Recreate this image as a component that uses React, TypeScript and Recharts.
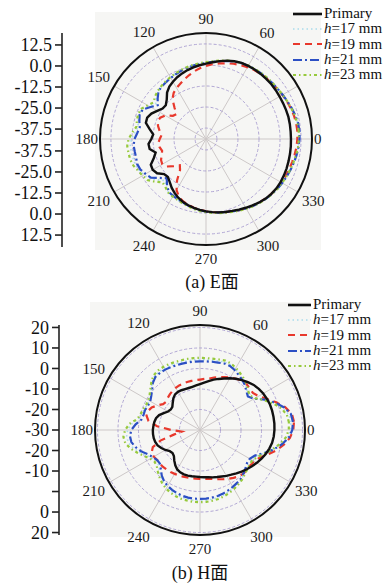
import {
  Legend,
  LineChart,
  PolarAngleAxis,
  PolarGrid,
  PolarRadiusAxis,
  Radar,
  RadarChart,
  XAxis,
  YAxis,
} from "recharts";

// angle categories, 5 degree steps
const angles = Array.from({ length: 72 }, (_, i) => i * 5);
const spokeAngles = [0, 30, 60, 90, 120, 150, 180, 210, 240, 270, 300, 330];
// 30 sits under the legend in the original, so it is not printed
const angleLabels = [0, 60, 90, 120, 150, 180, 210, 240, 270, 300, 330];

// E plane (dB)
const ePrimary = [
  6.5, 6.6, 6.7, 6.6, 6.5, 6.5, 6.6, 6.7, 6.6, 6.5,
  6.4, 6.2, 5.9, 5.2, 4.2, 3.0, 1.8, 0.8, 0.0, -0.8,
  -1.6, -2.5, -3.5, -4.7, -6.0, -8.0, -11.0, -12.8, -12.5, -10.5,
  -8.2, -6.8, -7.0, -10.0, -12.5, -11.5, -9.7, -10.0, -13.0, -11.0,
  -7.8, -7.4, -8.5, -11.5, -12.0, -10.5, -8.5, -6.8, -5.3, -4.2,
  -3.2, -2.4, -1.7, -1.0, -0.4, 0.3, 0.9, 1.5, 2.3, 3.2,
  4.2, 5.2, 6.1, 6.7, 7.1, 7.2, 7.1, 7.0, 6.8, 6.7,
  6.6, 6.5,
];
const eH17 = [
  11.5, 11.3, 10.7, 10.0, 9.2, 8.6, 8.0, 7.6, 7.3, 7.0,
  6.7, 6.3, 5.8, 5.1, 4.1, 3.1, 2.2, 1.5, 1.0, 0.5,
  0.0, -0.6, -1.2, -1.8, -2.4, -3.0, -3.8, -5.5, -7.5, -5.0,
  -2.0, -1.5, -2.3, -3.0, -1.5, 0.3, 1.2, 1.0, 0.8, 0.8,
  -0.2, -1.5, -2.8, -6.2, -9.2, -7.2, -5.2, -4.7, -4.2, -3.5,
  -2.8, -2.0, -1.3, -0.6, 0.0, 0.6, 1.2, 2.0, 2.8, 3.7,
  4.7, 5.5, 6.3, 7.0, 7.7, 8.2, 8.8, 9.4, 10.0, 10.5,
  11.0, 11.3,
];
const eH19 = [
  10.5, 10.4, 10.1, 9.6, 9.0, 8.4, 7.8, 7.3, 6.9, 6.5,
  6.0, 5.3, 4.5, 3.6, 2.6, 1.6, 0.6, -0.5, -1.8, -3.2,
  -4.8, -6.3, -7.8, -9.0, -10.5, -13.0, -17.5, -21.0, -20.0, -16.0,
  -14.0, -13.5, -14.5, -16.0, -17.5, -16.5, -15.5, -16.0, -17.0, -16.0,
  -14.5, -14.0, -15.5, -19.0, -22.0, -20.0, -14.0, -9.0, -6.0, -4.5,
  -3.5, -2.5, -1.8, -1.0, -0.3, 0.3, 1.0, 1.8, 2.7, 3.6,
  4.5, 5.3, 6.0, 6.7, 7.3, 7.8, 8.2, 8.6, 9.0, 9.5,
  10.0, 10.3,
];
const eH21 = [
  11.8, 11.5, 10.9, 10.1, 9.3, 8.6, 8.0, 7.6, 7.3, 7.0,
  6.7, 6.3, 5.8, 5.0, 4.0, 3.0, 2.0, 1.3, 0.8, 0.3,
  -0.3, -0.9, -1.5, -2.1, -2.7, -3.2, -4.0, -6.5, -9.0, -6.0,
  -2.5, -2.0, -3.0, -4.0, -3.0, -1.5, -0.8, -1.0, -1.0, -0.5,
  -1.0, -2.5, -4.0, -8.0, -11.0, -8.0, -5.5, -5.0, -4.5, -3.8,
  -3.0, -2.2, -1.5, -0.8, -0.2, 0.4, 1.0, 1.8, 2.7, 3.6,
  4.6, 5.5, 6.3, 7.0, 7.7, 8.3, 8.9, 9.5, 10.1, 10.7,
  11.2, 11.6,
];
const eH23 = [
  11.3, 11.1, 10.6, 9.9, 9.2, 8.6, 8.1, 7.7, 7.4, 7.1,
  6.8, 6.4, 5.9, 5.2, 4.3, 3.3, 2.4, 1.7, 1.2, 0.7,
  0.2, -0.4, -1.0, -1.6, -2.2, -2.8, -3.5, -4.5, -6.0, -4.0,
  -1.5, -1.0, -1.5, -2.0, 0.0, 2.0, 3.0, 2.8, 2.7, 2.0,
  0.5, -0.5, -1.5, -4.5, -7.5, -6.5, -5.0, -4.5, -4.0, -3.3,
  -2.6, -1.8, -1.1, -0.5, 0.1, 0.7, 1.3, 2.1, 3.0, 3.9,
  4.8, 5.6, 6.4, 7.1, 7.7, 8.2, 8.7, 9.3, 9.8, 10.4,
  10.9, 11.2,
];

// H plane (dB)
const hPrimary = [
  6.4, 6.4, 6.4, 6.3, 6.0, 5.6, 5.0, 4.2, 3.0, 1.8,
  0.5, -0.9, -2.3, -3.5, -4.6, -5.8, -6.8, -7.6, -8.2, -8.6,
  -8.8, -8.8, -8.6, -8.5, -8.8, -9.8, -11.2, -12.4, -12.6, -12.0,
  -10.5, -8.8, -7.8, -7.4, -7.2, -7.0, -7.0, -7.1, -7.4, -8.0,
  -9.2, -10.5, -12.0, -12.5, -12.0, -10.5, -9.0, -7.8, -7.2, -7.0,
  -7.0, -7.1, -7.2, -7.1, -6.9, -6.6, -6.1, -5.6, -5.0, -4.2,
  -3.4, -2.4, -1.3, -0.2, 0.9, 2.0, 3.1, 4.1, 5.0, 5.7,
  6.1, 6.3,
];
const hH17 = [
  14.5, 14.0, 11.8, 8.5, 4.8, 0.8, -1.0, 0.0, 1.5, 2.5,
  3.4, 4.4, 5.1, 5.2, 4.8, 4.5, 4.4, 4.3, 4.3, 4.3,
  4.3, 4.4, 4.6, 4.8, 4.7, 4.4, 3.0, 1.0, -0.5, -1.5,
  -1.5, -1.0, -0.5, 0.5, 3.5, 5.3, 5.9, 5.5, 3.8, 1.5,
  -1.0, -2.8, -3.8, -3.5, -2.0, -0.3, 1.2, 2.2, 3.0, 3.6,
  4.0, 4.2, 4.4, 4.4, 4.4, 4.2, 4.0, 3.7, 3.2, 2.6,
  2.0, 1.4, 0.4, -0.5, -1.2, -1.2, 0.2, 3.2, 6.8, 10.0,
  12.8, 14.2,
];
const hH19 = [
  16.0, 15.5, 13.0, 9.5, 6.0, 3.0, 1.5, 1.5, 2.0, 1.5,
  0.5, -0.5, -1.5, -2.5, -3.5, -4.5, -5.0, -5.4, -5.6, -5.7,
  -5.8, -5.9, -6.0, -6.3, -6.7, -7.2, -7.8, -8.5, -8.0, -6.0,
  -4.0, -3.0, -3.0, -4.5, -9.0, -16.0, -21.0, -17.0, -10.0, -5.5,
  -4.0, -4.0, -4.5, -4.5, -4.5, -4.8, -5.0, -5.3, -5.6, -5.8,
  -6.0, -6.1, -6.2, -6.2, -6.1, -5.8, -5.3, -4.5, -3.5, -2.5,
  -1.5, -0.5, 0.0, 0.0, 0.0, 0.5, 2.0, 5.0, 8.5, 11.5,
  14.0, 15.5,
];
const hH21 = [
  15.5, 15.0, 12.5, 9.0, 5.0, 0.5, -1.5, -0.5, 1.0, 2.0,
  2.8, 3.8, 4.5, 4.5, 4.0, 3.8, 3.6, 3.5, 3.5, 3.5,
  3.5, 3.6, 3.8, 4.0, 4.0, 3.8, 2.5, 0.5, -1.0, -2.0,
  -2.0, -1.5, -1.5, -1.0, 1.5, 3.5, 4.3, 4.0, 2.5, 0.5,
  -2.0, -3.5, -4.5, -4.5, -3.0, -1.0, 0.5, 1.5, 2.2, 2.8,
  3.2, 3.5, 3.6, 3.6, 3.6, 3.5, 3.3, 3.0, 2.5, 2.0,
  1.5, 1.0, 0.0, -1.0, -2.0, -2.0, -0.5, 3.0, 7.0, 10.5,
  13.5, 15.0,
];
const hH23 = [
  13.5, 13.0, 11.0, 8.0, 4.5, 1.0, -0.5, 0.5, 2.0, 3.0,
  4.0, 5.0, 5.8, 6.0, 5.6, 5.3, 5.2, 5.2, 5.2, 5.2,
  5.2, 5.3, 5.5, 5.6, 5.5, 5.0, 3.5, 1.5, 0.0, -1.0,
  -1.0, -0.5, 0.0, 1.0, 4.5, 6.5, 7.5, 7.0, 5.0, 2.5,
  0.0, -2.0, -3.0, -2.5, -1.0, 0.5, 2.0, 3.0, 3.8, 4.4,
  4.8, 5.0, 5.2, 5.2, 5.2, 5.0, 4.8, 4.4, 3.8, 3.2,
  2.5, 1.8, 0.8, 0.0, -0.5, -0.5, 1.0, 3.5, 6.5, 9.5,
  12.0, 13.3,
];

// radial scales
const E_MIN = -44;
const E_MAX = 19;
const H_MIN = -30;
const H_MAX = 21.2;
const eRings = [-37.5, -25, -12.5, 0, 12.5];
const hRings = [-20, -10, 0, 10, 20];

// left-hand mirrored axes: values and labels going top to bottom
const eAxisValues = [12.5, 0, -12.5, -25, -37.5, -37.5, -25, -12.5, 0, 12.5];
const eAxisLabels = ["12.5", "0.0", "-12.5", "-25.0", "-37.5", "-37.5", "-25.0", "-12.5", "0.0", "12.5"];
const hAxisValues = [20, 10, 0, -10, -20, -30, -20, -10, 0, 10, 20];
const hAxisLabels = ["20", "10", "0", "-10", "-20", "-30", "-20", "-10", "", "0", "20"];

const eData = angles.map((angle, i) => ({
  angle,
  primary: ePrimary[i],
  h17: eH17[i],
  h19: eH19[i],
  h21: eH21[i],
  h23: eH23[i],
}));
const hData = angles.map((angle, i) => ({
  angle,
  primary: hPrimary[i],
  h17: hH17[i],
  h19: hH19[i],
  h21: hH21[i],
  h23: hH23[i],
}));

const series = [
  { key: "h17", name: "h=17 mm", stroke: "#a9dcec", width: 1.6, dash: "1.5 3" },
  { key: "h19", name: "h=19 mm", stroke: "#e8382c", width: 2.2, dash: "7 5" },
  { key: "h21", name: "h=21 mm", stroke: "#2c4fc4", width: 2.2, dash: "9 3 2 3" },
  { key: "h23", name: "h=23 mm", stroke: "#97c93d", width: 2.2, dash: "3 3 1.5 3" },
  { key: "primary", name: "Primary", stroke: "#111111", width: 2.4, dash: undefined as string | undefined },
];
const legendOrder = ["primary", "h17", "h19", "h21", "h23"];

const serif = "'Liberation Serif', 'Times New Roman', 'Noto Sans CJK SC', serif";

function makeAngleTick(cx: number, cy: number, r: number) {
  return function AngleTick(props: any) {
    const v = Number(props.payload?.value);
    if (!angleLabels.includes(v)) return <g />;
    const rad = (v * Math.PI) / 180;
    const c = Math.cos(rad);
    const s = Math.sin(rad);
    const label = String(v);
    const d = r + 2 + 7 * Math.abs(s) + (Math.abs(c) * label.length * 7.5) / 2 + Math.abs(s) * 5;
    return (
      <text
        x={cx + c * d}
        y={cy - s * d}
        textAnchor="middle"
        dominantBaseline="central"
        fontSize={15}
        fontFamily={serif}
        fill="#1a1a1a"
      >
        {label}
      </text>
    );
  };
}

function LegendContent({ payload, sampleWidth }: { payload?: any[]; sampleWidth: number }) {
  const items = legendOrder
    .map((k) => (payload || []).find((p) => p.dataKey === k))
    .filter(Boolean);
  return (
    <div style={{ fontFamily: serif, fontSize: 15, color: "#111", lineHeight: "15.3px" }}>
      {items.map((item: any) => {
        const s = series.find((x) => x.key === item.dataKey)!;
        const name = String(item.value);
        return (
          <div key={s.key} style={{ display: "flex", alignItems: "center", height: 15.3 }}>
            <svg width={sampleWidth} height={10} style={{ marginRight: 1 }}>
              <line
                x1={1}
                x2={sampleWidth - 1}
                y1={5}
                y2={5}
                stroke={s.stroke}
                strokeWidth={s.key === "primary" ? 2.6 : s.width}
                strokeDasharray={s.dash}
              />
            </svg>
            <span style={{ whiteSpace: "nowrap" }}>
              {name.startsWith("h=") ? (
                <>
                  <i>h</i>
                  {name.slice(1)}
                </>
              ) : (
                name
              )}
            </span>
          </div>
        );
      })}
    </div>
  );
}

function PolarPanel({
  data,
  cx,
  cy,
  r,
  min,
  max,
  rings,
  height,
  legendLeft,
  legendTop,
  sampleWidth,
}: {
  data: any[];
  cx: number;
  cy: number;
  r: number;
  min: number;
  max: number;
  rings: number[];
  height: number;
  legendLeft: number;
  legendTop: number;
  sampleWidth: number;
}) {
  const ringRadii = rings.map((v) => ((v - min) / (max - min)) * r);
  return (
    <RadarChart
      width={389}
      height={height}
      data={data}
      cx={cx}
      cy={cy}
      outerRadius={r}
      startAngle={0}
      endAngle={360}
      margin={{ top: 0, right: 0, bottom: 0, left: 0 }}
    >
      <PolarGrid gridType="circle" polarAngles={spokeAngles} polarRadius={[]} stroke="#cdc8c8" strokeWidth={1} />
      <PolarGrid
        gridType="circle"
        radialLines={false}
        polarAngles={spokeAngles}
        polarRadius={ringRadii}
        stroke="#a99ed0"
        strokeWidth={0.9}
        strokeDasharray="3 2"
      />
      <PolarAngleAxis
        dataKey="angle"
        tick={makeAngleTick(cx, cy, r)}
        tickLine={false}
        axisLine={{ stroke: "#111", strokeWidth: 2 }}
        axisLineType="circle"
      />
      <PolarRadiusAxis type="number" domain={[min, max]} allowDataOverflow tick={false} axisLine={false} />
      {series.map((s) => (
        <Radar
          key={s.key}
          dataKey={s.key}
          name={s.name}
          stroke={s.stroke}
          strokeWidth={s.width}
          strokeDasharray={s.dash}
          fill="none"
          fillOpacity={0}
          dot={false}
          isAnimationActive={false}
        />
      ))}
      <Legend
        layout="vertical"
        align="right"
        verticalAlign="top"
        wrapperStyle={{ left: legendLeft, top: legendTop, right: "auto", width: 100 }}
        content={(props: any) => <LegendContent payload={props.payload} sampleWidth={sampleWidth} />}
      />
    </RadarChart>
  );
}

function MirrorAxis({
  values,
  labels,
  center,
  span,
  width,
  top,
  plotHeight,
}: {
  values: number[];
  labels: string[];
  center: number;
  span: number;
  width: number;
  top: number;
  plotHeight: number;
}) {
  const half = values.length / 2;
  const positions = values.map((v, i) => (i < half ? v - center : -(v - center)));
  const labelAt = new Map(positions.map((p, i) => [p, labels[i]]));
  return (
    <LineChart
      width={width + 8}
      height={top + plotHeight + 12}
      data={[{ x: 0 }]}
      margin={{ top, right: 0, bottom: 12, left: 0 }}
    >
      <XAxis dataKey="x" hide />
      <YAxis
        type="number"
        domain={[-span, span]}
        allowDataOverflow
        ticks={positions}
        interval={0}
        width={width}
        tickSize={7}
        tickMargin={3}
        axisLine={{ stroke: "#222", strokeWidth: 1.6 }}
        tickLine={{ stroke: "#222", strokeWidth: 1.6 }}
        tick={{ fill: "#111", fontSize: 18, fontFamily: serif }}
        tickFormatter={(v: number) => labelAt.get(v) ?? ""}
      />
    </LineChart>
  );
}

const captionStyle = {
  position: "absolute" as const,
  fontFamily: serif,
  fontSize: 18,
  color: "#111",
  width: 120,
  textAlign: "center" as const,
  lineHeight: "20px",
};

const scanPatch = {
  position: "absolute" as const,
  background: "#f6f6f4",
};

export default function App() {
  return (
    <div style={{ position: "absolute", left: 0, top: 0, width: 389, height: 585, background: "#fff", overflow: "hidden" }}>
      <div style={{ ...scanPatch, left: 95, top: 12, width: 226, height: 238 }} />
      <div style={{ ...scanPatch, left: 90, top: 302, width: 220, height: 235 }} />

      <div style={{ position: "absolute", left: 0, top: 0 }}>
        <MirrorAxis values={eAxisValues} labels={eAxisLabels} center={E_MIN} span={63.6} width={62} top={33} plotHeight={214} />
      </div>
      <div style={{ position: "absolute", left: 0, top: 0 }}>
        <PolarPanel
          data={eData}
          cx={206}
          cy={139}
          r={106}
          min={E_MIN}
          max={E_MAX}
          rings={eRings}
          height={290}
          legendLeft={292}
          legendTop={6}
          sampleWidth={31}
        />
      </div>
      <div style={{ ...captionStyle, left: 152, top: 272 }}>(a) E面</div>

      <div style={{ position: "absolute", left: 0, top: 290 }}>
        <MirrorAxis values={hAxisValues} labels={hAxisLabels} center={H_MIN} span={51.2} width={59} top={35} plotHeight={210} />
      </div>
      <div style={{ position: "absolute", left: 0, top: 290 }}>
        <PolarPanel
          data={hData}
          cx={200}
          cy={140}
          r={105}
          min={H_MIN}
          max={H_MAX}
          rings={hRings}
          height={295}
          legendLeft={287}
          legendTop={7}
          sampleWidth={25}
        />
      </div>
      <div style={{ ...captionStyle, left: 140, top: 563 }}>(b) H面</div>
    </div>
  );
}
